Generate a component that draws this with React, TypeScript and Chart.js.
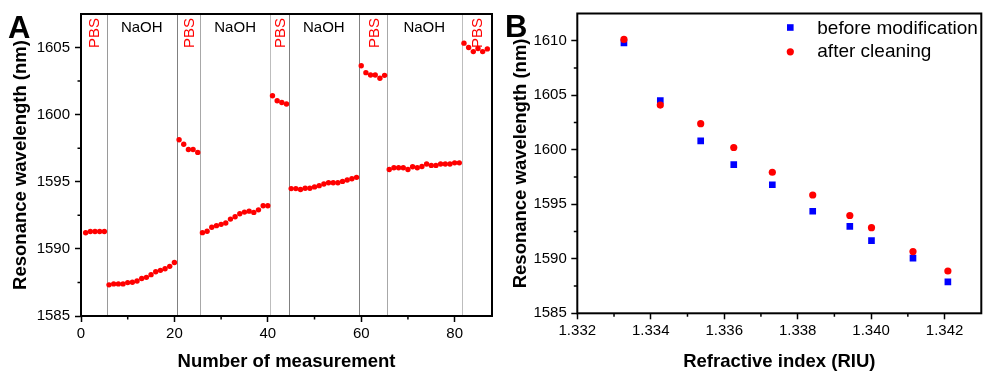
import React, { useEffect, useRef } from 'react';
import { Chart, registerables } from 'chart.js';

Chart.register(...registerables);

const FONT = '"Liberation Sans", Arial, Helvetica, sans-serif';

// ---------- Panel A data ----------
// Resonance wavelength (nm) for measurements 1..87
const resonanceA = [
  // PBS 1-5
  1591.2, 1591.3, 1591.3, 1591.3, 1591.3,
  // NaOH 6-20
  1587.32, 1587.39, 1587.39, 1587.39, 1587.49, 1587.51, 1587.61, 1587.79, 1587.88, 1588.08,
  1588.3, 1588.4, 1588.52, 1588.7, 1588.99,
  // PBS 21-25
  1598.13, 1597.8, 1597.41, 1597.41, 1597.19,
  // NaOH 26-40
  1591.21, 1591.31, 1591.61, 1591.73, 1591.83, 1591.93, 1592.22, 1592.4, 1592.62, 1592.74,
  1592.81, 1592.72, 1592.91, 1593.21, 1593.21,
  // PBS 41-44
  1601.41, 1601.04, 1600.91, 1600.79,
  // NaOH 45-59
  1594.49, 1594.49, 1594.42, 1594.52, 1594.52, 1594.62, 1594.71, 1594.84, 1594.93, 1594.93,
  1594.93, 1595.03, 1595.13, 1595.23, 1595.33,
  // PBS 60-65
  1603.65, 1603.13, 1602.96, 1602.96, 1602.71, 1602.93,
  // NaOH 66-81
  1595.92, 1596.04, 1596.04, 1596.04, 1595.92, 1596.12, 1596.04, 1596.14, 1596.32, 1596.22,
  1596.22, 1596.32, 1596.32, 1596.32, 1596.41, 1596.41,
  // PBS 82-87
  1605.33, 1605.0, 1604.7, 1604.93, 1604.7, 1604.9,
];
const segmentBounds = [0, 5.5, 20.5, 25.5, 40.5, 44.5, 59.5, 65.5, 81.5, 88];
const segmentLabels = ['PBS', 'NaOH', 'PBS', 'NaOH', 'PBS', 'NaOH', 'PBS', 'NaOH', 'PBS'];
const xTicksA = [0, 20, 40, 60, 80];
const xMinorA = [10, 30, 50, 70];
const yTicksA = [1585, 1590, 1595, 1600, 1605];
const yMinorA = [1587.5, 1592.5, 1597.5, 1602.5];

// ---------- Panel B data ----------
const refractiveIndex = [1.33327, 1.33426, 1.33536, 1.33626, 1.33731, 1.33841, 1.33942, 1.34001, 1.34114, 1.34209];
const beforeModification = [1609.8, 1604.52, 1600.82, 1598.64, 1596.79, 1594.36, 1592.97, 1591.66, 1590.06, 1587.88];
const afterCleaning = [1610.12, 1604.1, 1602.39, 1600.21, 1597.94, 1595.85, 1593.97, 1592.85, 1590.66, 1588.88];
const seriesLabels = ['before modification', 'after cleaning'];
const xTicksB = [1.332, 1.334, 1.336, 1.338, 1.34, 1.342];
const xMinorB = [1.333, 1.335, 1.337, 1.339, 1.341];
const yTicksB = [1585, 1590, 1595, 1600, 1605, 1610];
const yMinorB = [1587.5, 1592.5, 1597.5, 1602.5, 1607.5];

// ---------- styles ----------
const dividerColors = ['#9a9a9a', '#808080', '#a8a8a8', '#bdbdbd', '#808080', '#808080', '#a8a8a8', '#bdbdbd'];
const RED = '#ff0000';
const BLUE = '#0000ff';

function makeFramePlugin(cfg: {
  minorX: number[]; minorY: number[]; letter: string; letterX: number; letterY: number;
}) {
  return {
    id: 'frame',
    afterDraw(chart: any) {
      const { ctx, chartArea: a, scales } = chart;
      ctx.save();
      ctx.strokeStyle = '#000';
      ctx.lineWidth = 2;
      ctx.strokeRect(a.left, a.top, a.right - a.left, a.bottom - a.top);
      ctx.lineWidth = 1.5;
      ctx.beginPath();
      for (const v of cfg.minorX) {
        const px = scales.x.getPixelForValue(v);
        ctx.moveTo(px, a.bottom);
        ctx.lineTo(px, a.bottom + 3.5);
      }
      for (const v of cfg.minorY) {
        const py = scales.y.getPixelForValue(v);
        ctx.moveTo(a.left, py);
        ctx.lineTo(a.left - 3.5, py);
      }
      ctx.stroke();
      ctx.fillStyle = '#000';
      ctx.font = `bold 31px ${FONT}`;
      ctx.textAlign = 'left';
      ctx.textBaseline = 'alphabetic';
      ctx.fillText(cfg.letter, cfg.letterX, cfg.letterY);
      ctx.restore();
    },
  };
}

const segmentsPlugin = {
  id: 'segments',
  beforeDatasetsDraw(chart: any) {
    const { ctx, chartArea: a, scales } = chart;
    ctx.save();
    segmentBounds.slice(1, -1).forEach((b, i) => {
      const px = Math.round(scales.x.getPixelForValue(b)) + 0.5;
      ctx.strokeStyle = dividerColors[i];
      ctx.lineWidth = 1;
      ctx.beginPath();
      ctx.moveTo(px, a.top);
      ctx.lineTo(px, a.bottom);
      ctx.stroke();
    });
    ctx.restore();
  },
  afterDatasetsDraw(chart: any) {
    const { ctx, chartArea: a, scales } = chart;
    ctx.save();
    ctx.font = `15px ${FONT}`;
    ctx.textAlign = 'center';
    ctx.textBaseline = 'middle';
    segmentLabels.forEach((label, i) => {
      const cx = (scales.x.getPixelForValue(segmentBounds[i]) + scales.x.getPixelForValue(segmentBounds[i + 1])) / 2;
      if (label === 'PBS') {
        ctx.save();
        ctx.translate(cx + 1.5, a.top + 19);
        ctx.rotate(-Math.PI / 2);
        ctx.fillStyle = RED;
        ctx.fillText(label, 0, 0);
        ctx.restore();
      } else {
        ctx.fillStyle = '#000';
        ctx.fillText(label, cx, a.top + 14);
      }
    });
    ctx.restore();
  },
};

const legendPlugin = {
  id: 'customLegend',
  afterDraw(chart: any) {
    const { ctx, chartArea: a } = chart;
    ctx.save();
    const mx = a.right - 191;
    const tx = a.right - 164;
    const rows = [a.top + 14, a.top + 38.3];
    ctx.fillStyle = BLUE;
    ctx.fillRect(mx - 3.3, rows[0] - 3.3, 6.6, 6.6);
    ctx.fillStyle = RED;
    ctx.beginPath();
    ctx.arc(mx, rows[1], 3.6, 0, Math.PI * 2);
    ctx.fill();
    ctx.fillStyle = '#000';
    ctx.font = `19px ${FONT}`;
    ctx.textAlign = 'left';
    ctx.textBaseline = 'middle';
    ctx.fillText(seriesLabels[0], tx, rows[0] + 0.8);
    ctx.fillText(seriesLabels[1], tx, rows[1]);
    ctx.restore();
  },
};

function axisCommon(extra: any) {
  return {
    type: 'linear',
    grid: { display: true, drawOnChartArea: false, drawTicks: true, tickLength: 6, tickWidth: 1.5, tickColor: '#000' },
    border: { display: false },
    ...extra,
  };
}

function titleOpts(text: string, padding: any) {
  return {
    display: true,
    text,
    color: '#000',
    font: { family: FONT, size: 18.5, weight: 'bold', lineHeight: 1 },
    padding,
  };
}

function tickFont() {
  return { family: FONT, size: 15 };
}

const plainNumber = (v: any) => String(v);

export default function App() {
  const leftRef = useRef<HTMLCanvasElement>(null);
  const rightRef = useRef<HTMLCanvasElement>(null);

  useEffect(() => {
    const left = new Chart(leftRef.current as HTMLCanvasElement, {
      type: 'scatter',
      data: {
        datasets: [
          {
            data: resonanceA.map((v, i) => ({ x: i + 1, y: v })),
            pointStyle: 'circle',
            pointRadius: 2.7,
            pointHoverRadius: 2.7,
            backgroundColor: RED,
            borderColor: RED,
            borderWidth: 0,
            clip: false,
          },
        ],
      },
      options: {
        animation: false,
        responsive: true,
        maintainAspectRatio: false,
        events: [],
        layout: { padding: { top: 12, right: 8, left: 0, bottom: 0 } },
        plugins: { legend: { display: false }, tooltip: { enabled: false } },
        scales: {
          x: axisCommon({
            min: 0,
            max: 88,
            afterBuildTicks: (s: any) => { s.ticks = xTicksA.map((v) => ({ value: v })); },
            afterFit: (s: any) => { s.height = 55; },
            ticks: { color: '#000', font: tickFont(), padding: 3, maxRotation: 0, autoSkip: false, callback: plainNumber },
            title: titleOpts('Number of measurement', { top: 0, bottom: 0 }),
          }),
          y: axisCommon({
            min: 1585,
            max: 1607.5,
            afterBuildTicks: (s: any) => { s.ticks = yTicksA.map((v) => ({ value: v })); },
            afterFit: (s: any) => { s.width = 81; },
            ticks: { color: '#000', font: tickFont(), padding: 5, autoSkip: false, callback: plainNumber },
            title: titleOpts('Resonance wavelength (nm)', { top: 11.3, bottom: 0 }),
          }),
        },
      } as any,
      plugins: [segmentsPlugin, makeFramePlugin({ minorX: xMinorA, minorY: yMinorA, letter: 'A', letterX: 8, letterY: 38 })],
    } as any);

    const right = new Chart(rightRef.current as HTMLCanvasElement, {
      type: 'scatter',
      data: {
        datasets: [
          {
            label: seriesLabels[0],
            data: refractiveIndex.map((x, i) => ({ x, y: beforeModification[i] })),
            pointStyle: 'rect',
            pointRadius: 4.7,
            pointHoverRadius: 4.7,
            backgroundColor: BLUE,
            borderColor: BLUE,
            borderWidth: 0,
            order: 2,
          },
          {
            label: seriesLabels[1],
            data: refractiveIndex.map((x, i) => ({ x, y: afterCleaning[i] })),
            pointStyle: 'circle',
            pointRadius: 3.6,
            pointHoverRadius: 3.6,
            backgroundColor: RED,
            borderColor: RED,
            borderWidth: 0,
            order: 1,
          },
        ],
      },
      options: {
        animation: false,
        responsive: true,
        maintainAspectRatio: false,
        events: [],
        layout: { padding: { top: 12, right: 1, left: 0, bottom: 0 } },
        plugins: { legend: { display: false }, tooltip: { enabled: false } },
        scales: {
          x: axisCommon({
            min: 1.332,
            max: 1.343,
            afterBuildTicks: (s: any) => { s.ticks = xTicksB.map((v) => ({ value: v })); },
            afterFit: (s: any) => { s.height = 57.7; },
            ticks: {
              color: '#000', font: tickFont(), padding: 3, maxRotation: 0, autoSkip: false,
              callback: (v: any) => Number(v).toFixed(3),
            },
            title: titleOpts('Refractive index (RIU)', { top: 0, bottom: 0 }),
          }),
          y: axisCommon({
            min: 1585,
            max: 1612.5,
            afterBuildTicks: (s: any) => { s.ticks = yTicksB.map((v) => ({ value: v })); },
            afterFit: (s: any) => { s.width = 77.3; },
            ticks: { color: '#000', font: tickFont(), padding: 4.5, autoSkip: false, callback: plainNumber },
            title: titleOpts('Resonance wavelength (nm)', { top: 11.3, bottom: 0 }),
          }),
        },
      } as any,
      plugins: [legendPlugin, makeFramePlugin({ minorX: xMinorB, minorY: yMinorB, letter: 'B', letterX: 5, letterY: 37 })],
    } as any);

    return () => {
      left.destroy();
      right.destroy();
    };
  }, []);

  return (
    <div style={{ position: 'absolute', left: 0, top: 0, width: 986, height: 371, background: '#fff' }}>
      <div style={{ position: 'absolute', left: 0, top: 0, width: 500, height: 371 }}>
        <canvas ref={leftRef} />
      </div>
      <div style={{ position: 'absolute', left: 500, top: 0, width: 486, height: 371 }}>
        <canvas ref={rightRef} />
      </div>
    </div>
  );
}
